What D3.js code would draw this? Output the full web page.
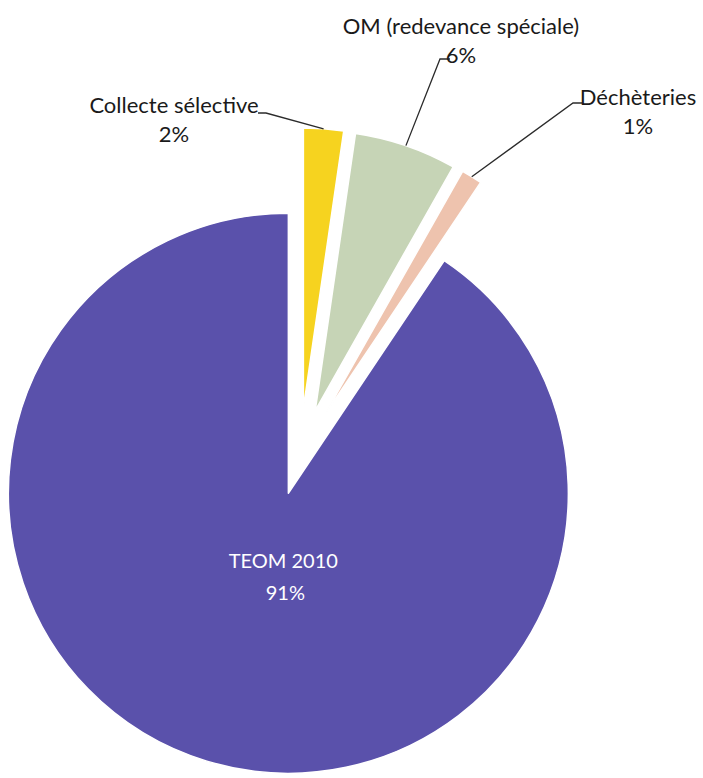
<!DOCTYPE html>
<html>
<head>
<meta charset="utf-8">
<script src="https://cdn.jsdelivr.net/npm/d3@7"></script>
<style>
  html, body { margin: 0; padding: 0; background: #ffffff; }
  svg { display: block; }
  text { font-family: Lato, "Open Sans", sans-serif; }
</style>
</head>
<body>
<svg id="chart" width="703" height="778"></svg>
<script>
// ---- data ----
const categories = ["Collecte sélective", "OM (redevance spéciale)", "Déchèteries", "TEOM 2010"];
const values = [2.3, 5.9, 1.2, 90.6];
const percentLabels = ["2%", "6%", "1%", "91%"];
const colors = ["#f6d31f", "#c6d4b6", "#eec3ae", "#5a51ab"];

// ---- layout ----
const W = 703, H = 778;
const cx = 300, cy = 455, R = 280;
const explode = [47, 47, 47, 40];
// outside labels: text centre x, first baseline y, leader tick
const labelLayout = [
  { x: 174, y: 113, tickFrom: 258, tickTo: 266, tickY: 113 },
  { x: 461, y: 34,  tickFrom: 450, tickTo: 440, tickY: 59 },
  { x: 638, y: 105, tickFrom: 582, tickTo: 573, tickY: 103 }
];

const svg = d3.select("#chart");

const pie = d3.pie().sort(null).value(d => d).startAngle(0).endAngle(2 * Math.PI);
const arcs = pie(values);
const arcGen = d3.arc().innerRadius(0).outerRadius(R);

function offset(a, d) {
  const m = (a.startAngle + a.endAngle) / 2;
  return [d * Math.sin(m), -d * Math.cos(m)];
}

const g = svg.append("g").attr("transform", `translate(${cx},${cy})`);

g.selectAll("path.slice")
  .data(arcs)
  .join("path")
  .attr("class", "slice")
  .attr("d", arcGen)
  .attr("transform", (a, i) => { const o = offset(a, explode[i]); return `translate(${o[0]},${o[1]})`; })
  .attr("fill", (a, i) => colors[i])
  .attr("stroke", "#ffffff")
  .attr("stroke-width", 1.5)
  .attr("stroke-linejoin", "round");

// leader lines & outside labels
arcs.slice(0, 3).forEach((a, i) => {
  const o = offset(a, explode[i]);
  const m = (a.startAngle + a.endAngle) / 2;
  const ex = cx + o[0] + R * Math.sin(m);
  const ey = cy + o[1] - R * Math.cos(m);
  const L = labelLayout[i];
  svg.append("polyline")
    .attr("points", `${L.tickFrom},${L.tickY} ${L.tickTo},${L.tickY} ${ex},${ey}`)
    .attr("fill", "none")
    .attr("stroke", "#2b2b2b")
    .attr("stroke-width", 1.3);
  const t = svg.append("text")
    .attr("x", L.x).attr("y", L.y)
    .attr("text-anchor", "middle")
    .attr("fill", "#1a1a1a")
    .style("font-size", "22px");
  t.append("tspan").attr("x", L.x).attr("y", L.y).text(categories[i]);
  t.append("tspan").attr("x", L.x).attr("y", L.y + 29).text(percentLabels[i]);
});

// inside label for main slice
{
  const a = arcs[3];
  const o = offset(a, explode[3]);
  const lx = cx + o[0] - 5, ly = cy + o[1] + 75;
  const t = svg.append("text")
    .attr("text-anchor", "middle")
    .attr("fill", "#ffffff")
    .style("font-size", "20px");
  t.append("tspan").attr("x", lx).attr("y", ly).text(categories[3]);
  t.append("tspan").attr("x", lx + 2).attr("y", ly + 32).text(percentLabels[3]);
}
</script>
</body>
</html>
